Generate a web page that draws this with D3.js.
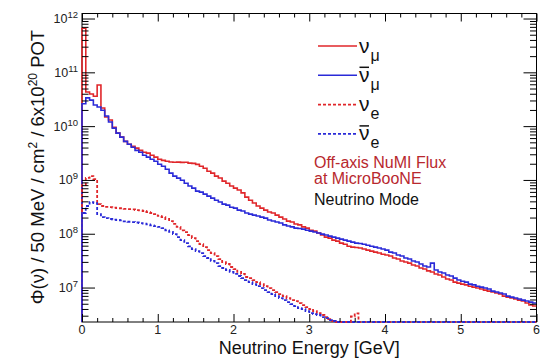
<!DOCTYPE html>
<html><head><meta charset="utf-8">
<script src="https://cdn.jsdelivr.net/npm/d3@7"></script>
<style>body{margin:0;background:#fff}svg{display:block}</style>
</head><body>
<svg id="c" width="544" height="360"></svg>
<script>
// ---- data: flux per 50 MeV bin, 0-6 GeV (120 bins) ----
const binWidth = 0.05;
const numu = [
 6.6e11, 4.3e10, 3.95e10, 3.6e10, 5.8e10, 2.17e10, 1.48e10, 1.3e10, 9.5e9, 7.4e9,
 6.25e9, 5.2e9, 4.6e9, 4.2e9, 3.9e9, 3.55e9, 3.27e9, 3.15e9, 2.87e9, 2.65e9,
 2.42e9, 2.31e9, 2.22e9, 2.15e9, 2.13e9, 2.14e9, 2.12e9, 2.13e9, 2.05e9, 2.03e9,
 1.95e9, 1.8e9, 1.65e9, 1.45e9, 1.34e9, 1.18e9, 1.09e9, 9.5e8, 8.7e8, 7.7e8,
 7.05e8, 6.5e8, 5.75e8, 4.8e8, 4.2e8, 3.72e8, 3.28e8, 3.0e8, 2.75e8, 2.53e8,
 2.43e8, 2.22e8, 2.04e8, 1.88e8, 1.72e8, 1.65e8, 1.52e8, 1.46e8, 1.34e8, 1.27e8,
 1.16e8, 1.12e8, 1.03e8, 9.45e7, 8.65e7, 8.3e7, 7.6e7, 7.3e7, 6.7e7, 6.4e7,
 5.85e7, 5.65e7, 5.55e7, 5.45e7, 5.2e7, 4.97e7, 4.76e7, 4.56e7, 4.38e7, 4.17e7,
 4.02e7, 3.85e7, 3.54e7, 3.39e7, 3.12e7, 2.98e7, 2.85e7, 2.62e7, 2.51e7, 2.31e7,
 2.21e7, 2.04e7, 1.95e7, 1.79e7, 1.71e7, 1.57e7, 1.44e7, 1.38e7, 1.26e7, 1.21e7,
 1.16e7, 1.12e7, 1.06e7, 1.02e7, 9.8e6, 9.4e6, 8.97e6, 8.6e6, 8.25e6, 7.9e6,
 7.57e6, 6.94e6, 6.65e6, 6.38e6, 6.11e6, 5.85e6, 5.61e6, 5.15e6, 4.73e6, 4.53e6
];
const numubar = [
 2.6e10, 3.35e10, 3.05e10, 2.47e10, 2.27e10, 1.98e10, 1.54e10, 1.19e10, 9.2e9, 7.4e9,
 6.25e9, 5.2e9, 4.6e9, 4.05e9, 3.55e9, 3.27e9, 2.87e9, 2.65e9, 2.42e9, 2.22e9,
 1.96e9, 1.8e9, 1.58e9, 1.34e9, 1.18e9, 1.08e9, 9.9e8, 8.7e8, 7.7e8, 7.05e8,
 6.2e8, 5.95e8, 5.45e8, 5.0e8, 4.6e8, 4.2e8, 3.88e8, 3.55e8, 3.4e8, 3.1e8,
 3.0e8, 2.75e8, 2.65e8, 2.43e8, 2.32e8, 2.22e8, 2.14e8, 2.04e8, 1.95e8, 1.8e8,
 1.73e8, 1.65e8, 1.58e8, 1.46e8, 1.39e8, 1.34e8, 1.27e8, 1.25e8, 1.22e8, 1.16e8,
 1.12e8, 1.08e8, 1.03e8, 9.85e7, 9.45e7, 9.05e7, 8.65e7, 8.3e7, 7.95e7, 7.6e7,
 7.3e7, 6.98e7, 6.7e7, 6.6e7, 6.4e7, 6.12e7, 5.85e7, 5.65e7, 5.45e7, 5.2e7,
 4.97e7, 4.56e7, 4.38e7, 4.02e7, 3.85e7, 3.54e7, 3.39e7, 3.12e7, 2.98e7, 2.74e7,
 2.51e7, 2.41e7, 2.85e7, 2.12e7, 1.95e7, 1.87e7, 1.71e7, 1.64e7, 1.5e7, 1.38e7,
 1.31e7, 1.26e7, 1.16e7, 1.12e7, 1.06e7, 1.02e7, 9.8e6, 9.4e6, 8.6e6, 8.25e6,
 7.9e6, 7.57e6, 6.94e6, 6.65e6, 6.38e6, 6.11e6, 5.85e6, 5.61e6, 5.37e6, 5.15e6
];
const nue = [
 8.0e8, 1.09e9, 1.18e9, 1.04e9, 3.55e8, 3.28e8, 3.15e8, 3.12e8, 3.06e8, 3.0e8,
 2.98e8, 2.9e8, 2.87e8, 2.84e8, 2.75e8, 2.73e8, 2.65e8, 2.52e8, 2.43e8, 2.32e8,
 2.14e8, 2.04e8, 1.88e8, 1.72e8, 1.52e8, 1.34e8, 1.16e8, 1.07e8, 9.45e7, 8.3e7,
 7.3e7, 6.4e7, 5.65e7, 4.97e7, 4.38e7, 3.85e7, 3.39e7, 2.98e7, 2.74e7, 2.41e7,
 2.21e7, 1.95e7, 1.79e7, 1.57e7, 1.5e7, 1.38e7, 1.26e7, 1.16e7, 1.06e7, 9.8e6,
 8.97e6, 8.25e6, 7.57e6, 6.94e6, 6.38e6, 5.85e6, 5.61e6, 5.15e6, 4.73e6, 4.34e6,
 3.98e6, 3.66e6, 3.36e6, 3.09e6, 2.83e6, 2.6e6, 2.39e6, 0, 0, 0,
 0, 2.9e6, 3.3e6, 0, 0, 0, 0, 0, 0, 0,
 0, 0, 0, 0, 0, 0, 0, 0, 0, 0,
 0, 0, 0, 0, 0, 0, 0, 0, 0, 0,
 0, 0, 0, 0, 0, 0, 0, 0, 0, 0,
 0, 0, 0, 0, 0, 0, 0, 0, 0, 0
];
const nuebar = [
 2.43e8, 3.28e8, 3.88e8, 3.72e8, 2.32e8, 2.04e8, 1.95e8, 1.88e8, 1.83e8, 1.8e8,
 1.77e8, 1.7e8, 1.67e8, 1.65e8, 1.62e8, 1.58e8, 1.54e8, 1.49e8, 1.43e8, 1.38e8,
 1.34e8, 1.27e8, 1.16e8, 1.08e8, 9.85e7, 8.65e7, 7.6e7, 6.7e7, 5.85e7, 5.2e7,
 4.76e7, 4.38e7, 3.85e7, 3.54e7, 3.12e7, 2.85e7, 2.51e7, 2.31e7, 2.12e7, 1.95e7,
 1.79e7, 1.64e7, 1.5e7, 1.38e7, 1.26e7, 1.16e7, 1.06e7, 9.8e6, 8.97e6, 8.25e6,
 7.57e6, 6.94e6, 6.38e6, 5.85e6, 5.37e6, 4.93e6, 4.53e6, 4.16e6, 3.98e6, 3.66e6,
 3.36e6, 3.22e6, 3.09e6, 2.83e6, 2.71e6, 2.49e6, 2.39e6, 0, 0, 0,
 0, 0, 0, 0, 0, 0, 0, 0, 0, 0,
 0, 0, 0, 0, 0, 0, 0, 0, 0, 0,
 0, 0, 0, 0, 0, 0, 0, 0, 0, 0,
 0, 0, 0, 0, 0, 0, 0, 0, 0, 0,
 0, 0, 0, 0, 0, 0, 0, 0, 0, 0
];
const xTickLabels = ["0","1","2","3","4","5","6"];
const yDecadeExps = [7, 8, 9, 10, 11, 12];
const legendSymbols = ["ν", "ν", "ν", "ν"];
const legendSubs = ["μ", "μ", "e", "e"];
const legendBars = [false, true, false, true];
const infoLines = ["Off-axis NuMI Flux", "at MicroBooNE", "Neutrino Mode"];

// ---- styles ----
const RED = "#e0262a", BLUE = "#2a2ad8", TXTRED = "#b8282e";
const FONT = "'Liberation Sans', Arial, Helvetica, sans-serif";
const seriesDefs = [
  {vals: numu, color: RED, dash: null},
  {vals: numubar, color: BLUE, dash: null},
  {vals: nue, color: RED, dash: "3,2"},
  {vals: nuebar, color: BLUE, dash: "3,2"}
];

const svg = d3.select("#c");
const L = 82, R = 536.5, T = 13.5, B = 322;
const x = d3.scaleLinear().domain([0, 6]).range([L, R]);
const y = d3.scaleLog().domain([2.29e6, 1.24e12]).range([B, T]);
const yMin = y.domain()[0], yMax = y.domain()[1];

svg.append("defs").append("clipPath").attr("id", "clip")
  .append("rect").attr("x", L - 1).attr("y", T).attr("width", R - L + 1).attr("height", B - T + 1);

// frame
svg.append("rect").attr("x", L).attr("y", T).attr("width", R - L).attr("height", B - T)
  .attr("fill", "none").attr("stroke", "#000").attr("stroke-width", 1);

// histograms
const line = d3.line().x(d => x(d[0])).y(d => y(d[1]));
function histPts(vals) {
  const pts = [[0, yMin]];
  vals.forEach((v, i) => {
    const vv = Math.min(Math.max(v, yMin), yMax);
    pts.push([i * binWidth, vv]);
    pts.push([(i + 1) * binWidth, vv]);
  });
  return pts;
}
const hg = svg.append("g").attr("clip-path", "url(#clip)");
seriesDefs.forEach(s => {
  hg.append("path").attr("d", line(histPts(s.vals)))
    .attr("fill", "none").attr("stroke", s.color)
    .attr("stroke-width", s.dash ? 1.8 : 1.6)
    .attr("stroke-dasharray", s.dash)
    .attr("stroke-linejoin", "miter");
});

// ticks
const decades = yDecadeExps.map(e => Math.pow(10, e));
const minorY = [];
for (let k = 6; k <= 12; k++) for (let m = 2; m <= 9; m++) {
  const v = m * Math.pow(10, k);
  if (v >= yMin && v <= yMax) minorY.push(v);
}
const xMajor = d3.range(0, 7, 1);
const xMinor = d3.range(0, 30.5, 1).map(i => i * 0.2).filter(v => Math.abs(v - Math.round(v)) > 1e-6);

function tickGroup(axis, tx, ty) {
  const g = svg.append("g").attr("transform", `translate(${tx},${ty})`).call(axis);
  g.select(".domain").remove();
  g.selectAll("text").remove();
  g.selectAll("line").attr("stroke", "#000").attr("stroke-width", 1);
  return g;
}
tickGroup(d3.axisRight(y).tickValues(decades).tickSize(13).tickFormat(""), L, 0);
tickGroup(d3.axisRight(y).tickValues(minorY).tickSize(6.5).tickFormat(""), L, 0);
tickGroup(d3.axisLeft(y).tickValues(decades).tickSize(13).tickFormat(""), R, 0);
tickGroup(d3.axisLeft(y).tickValues(minorY).tickSize(6.5).tickFormat(""), R, 0);
tickGroup(d3.axisTop(x).tickValues(xMajor).tickSize(8).tickFormat(""), 0, B);
tickGroup(d3.axisTop(x).tickValues(xMinor).tickSize(4).tickFormat(""), 0, B);
tickGroup(d3.axisBottom(x).tickValues(xMajor).tickSize(8).tickFormat(""), 0, T);
tickGroup(d3.axisBottom(x).tickValues(xMinor).tickSize(4).tickFormat(""), 0, T);

// y tick labels
yDecadeExps.forEach(e => {
  const t = svg.append("text").attr("x", 78).attr("y", y(Math.pow(10, e)) + 4.5)
    .attr("text-anchor", "end").attr("font-family", FONT).attr("fill", "#222");
  t.append("tspan").attr("font-size", 12.5).text("10");
  t.append("tspan").attr("font-size", 9.5).attr("dy", -5).text(String(e));
});
// x tick labels
xTickLabels.forEach((lab, i) => {
  svg.append("text").attr("x", x(+lab)).attr("y", 334).attr("text-anchor", "middle")
    .attr("font-family", FONT).attr("font-size", 12.5).attr("fill", "#222").text(lab);
});

// axis titles
svg.append("text").attr("x", (L + R) / 2).attr("y", 354).attr("text-anchor", "middle")
  .attr("font-family", FONT).attr("font-size", 18).attr("fill", "#111").text("Neutrino Energy [GeV]");
const yt = svg.append("text").attr("transform", "translate(43.5,167) rotate(-90)")
  .attr("text-anchor", "middle").attr("font-family", FONT).attr("font-size", 18.5).attr("fill", "#111");
yt.append("tspan").text("Φ(ν) / 50 MeV / cm");
yt.append("tspan").attr("font-size", 12).attr("dy", -7).text("2");
yt.append("tspan").attr("dy", 7).text(" / 6x10");
yt.append("tspan").attr("font-size", 12).attr("dy", -7).text("20");
yt.append("tspan").attr("dy", 7).text(" POT");

// legend
const legY0 = 46, legDY = 29.3;
seriesDefs.forEach((s, i) => {
  const ly = legY0 + i * legDY;
  svg.append("line").attr("x1", 318).attr("x2", 357).attr("y1", ly).attr("y2", ly)
    .attr("stroke", s.color).attr("stroke-width", s.dash ? 1.8 : 1.6)
    .attr("stroke-dasharray", s.dash);
  const sym = svg.append("text").attr("x", 359).attr("y", ly + 6.5)
    .attr("font-family", FONT).attr("font-size", 21).attr("fill", "#111").text(legendSymbols[i]);
  const bb = sym.node().getBBox();
  if (legendBars[i]) {
    svg.append("line").attr("x1", bb.x + 0.5).attr("x2", bb.x + bb.width - 0.5)
      .attr("y1", ly - 8).attr("y2", ly - 8).attr("stroke", "#111").attr("stroke-width", 1.5);
  }
  svg.append("text").attr("x", bb.x + bb.width + 1).attr("y", ly + 14.5)
    .attr("font-family", FONT).attr("font-size", 16).attr("fill", "#111").text(legendSubs[i]);
});

// info text
const infoY = [167.5, 183.5, 204.5];
const infoCol = [TXTRED, TXTRED, "#111"];
infoLines.forEach((t, i) => {
  svg.append("text").attr("x", 314).attr("y", infoY[i]).attr("font-family", FONT)
    .attr("font-size", 16).attr("fill", infoCol[i]).text(t);
});
</script>
</body></html>
